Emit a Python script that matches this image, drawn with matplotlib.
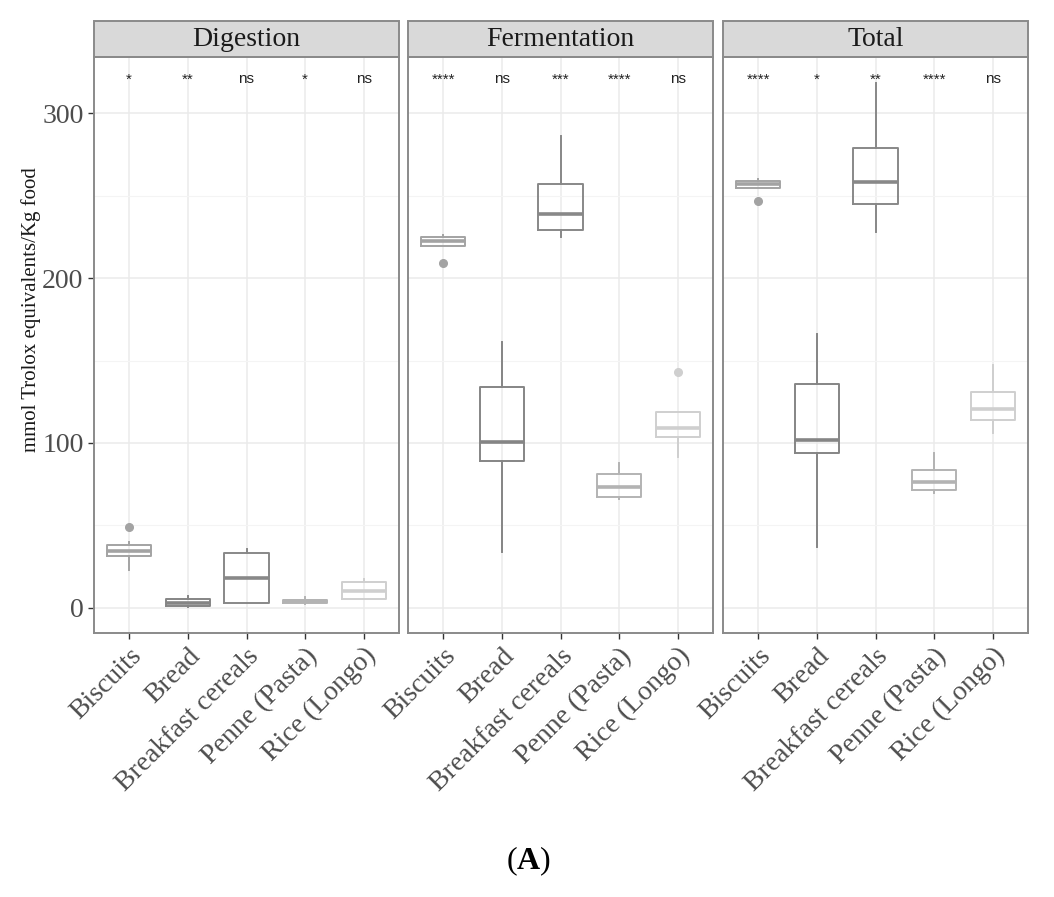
import matplotlib.pyplot as plt
from matplotlib.patches import Rectangle

plt.rcParams['font.family'] = ['Liberation Serif', 'DejaVu Serif']
plt.rcParams['mathtext.fontset'] = 'custom'
plt.rcParams['mathtext.rm'] = 'Liberation Serif'
plt.rcParams['mathtext.bf'] = 'Liberation Serif:bold'

categories = ["Biscuits", "Bread", "Breakfast cereals", "Penne (Pasta)", "Rice (Longo)"]
panels = ["Digestion", "Fermentation", "Total"]

# (whisker low, q1, median, q3, whisker high, outliers) per category
digestion = [
    (23, 31.5, 34.7, 38, 40, [49]),
    (0.5, 1.2, 2.8, 5.3, 7, []),
    (3.2, 3.2, 18, 33, 36, []),
    (2.5, 3.2, 4, 4.8, 6.5, []),
    (5.3, 5.3, 10.5, 16, 17.4, []),
]
fermentation = [
    (219.6, 219.6, 222.5, 224.6, 226, [209.3]),
    (33.8, 89.3, 100.8, 134, 161, []),
    (224.6, 229, 238.6, 257, 286, []),
    (65.9, 67.3, 73.5, 81, 87.7, []),
    (91.3, 103.4, 109, 118.8, 119, [143]),
]
total = [
    (254.7, 254.7, 257, 258.8, 260, [246.7]),
    (36.8, 93.7, 101.6, 135.6, 166, []),
    (227.7, 244.8, 258.4, 279, 318, []),
    (69.5, 71.3, 76.6, 83.6, 94, []),
    (106, 113.8, 120.8, 130.7, 147, []),
]
signif = [
    ["*", "**", "ns", "*", "ns"],
    ["****", "ns", "***", "****", "ns"],
    ["****", "*", "**", "****", "ns"],
]

colors = ["#a3a3a3", "#858585", "#888888", "#b3b3b3", "#cfcfcf"]

fig = plt.figure(figsize=(10.54, 8.97), dpi=100)
W, H = 1054, 897
lefts = [94, 408, 723]
pw = 305
top, bottom = 57, 633

for i, (name, data) in enumerate(zip(panels, [digestion, fermentation, total])):
    ax = fig.add_axes([lefts[i] / W, 1 - bottom / H, pw / W, (bottom - top) / H])
    ax.set_xlim(0.4, 5.6)
    ax.set_ylim(-15.2, 334)
    ax.set_yticks([0, 100, 200, 300])
    ax.set_yticks([50, 150, 250], minor=True)
    ax.set_xticks(range(1, 6))
    ax.grid(True, which='major', color='#ebebeb', lw=1.1, zorder=0)
    ax.grid(True, which='minor', axis='y', color='#f4f4f4', lw=0.8, zorder=0)
    ax.set_axisbelow(True)

    for j, (lo, q1, med, q3, hi, fl) in enumerate(data):
        st = [dict(whislo=lo, q1=q1, med=med, q3=q3, whishi=hi, fliers=fl)]
        c = colors[j]
        ax.bxp(st, positions=[j + 1], widths=0.76, showcaps=False,
               boxprops=dict(color=c, lw=1.4),
               whiskerprops=dict(color=c, lw=1.4),
               medianprops=dict(color=c, lw=2.6),
               flierprops=dict(marker='o', markerfacecolor=c, markeredgecolor=c, markersize=5.5),
               manage_ticks=False)

    for j, s in enumerate(signif[i]):
        ax.text(j + 1, 318, s, ha='center', va='baseline', fontsize=11,
                family=['Liberation Sans'], color='#222222')

    ax.set_xticklabels(categories, rotation=45, ha='right', rotation_mode='anchor',
                       fontsize=20, color='#4d4d4d')
    ax.tick_params(axis='both', which='major', length=4, width=1, color='#333333')
    ax.tick_params(axis='y', which='minor', length=0)
    if i == 0:
        ax.set_yticklabels(["0", "100", "200", "300"], fontsize=20, color='#4d4d4d')
        ax.set_ylabel("mmol Trolox equivalents/Kg food", fontsize=15, color='#1a1a1a')
        ax.yaxis.set_label_coords(-0.175, (bottom - 310) / (bottom - top))
    else:
        ax.tick_params(axis='y', labelleft=False, length=0)
    for sp in ax.spines.values():
        sp.set_color('#8a8a8a')
        sp.set_linewidth(1.4)

    # facet strip
    sh = 36 / (bottom - top)
    ax.add_patch(Rectangle((0, 1), 1, sh, transform=ax.transAxes, clip_on=False,
                           facecolor='#d9d9d9', edgecolor='#8a8a8a', lw=1.4))
    ax.text(0.5, 1 + sh / 2, name, transform=ax.transAxes, ha='center', va='center',
            fontsize=20, color='#1a1a1a')

fig.text(529 / W, 1 - 861 / H, r"($\mathbf{A}$)", ha='center', va='center', fontsize=23)

fig.savefig("out.png", dpi=100)
